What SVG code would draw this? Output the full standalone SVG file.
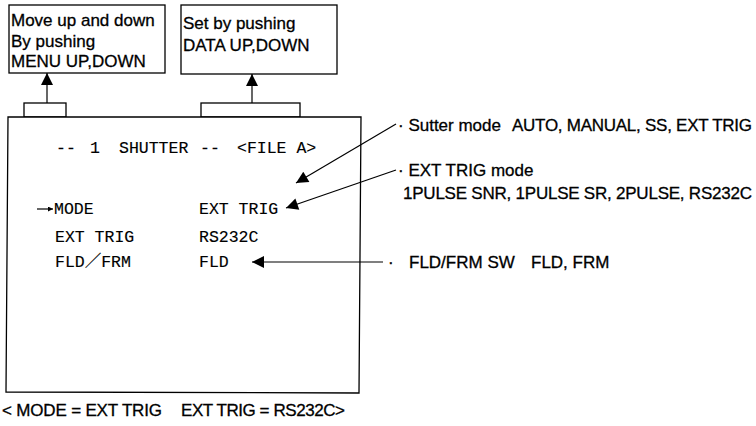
<svg xmlns="http://www.w3.org/2000/svg" width="756" height="426" viewBox="0 0 756 426">
<defs>
<style>
.box{fill:#fff;stroke:#000;stroke-width:1.3}
.ln{fill:none;stroke:#000;stroke-width:1.2}
.sans{font-family:"Liberation Sans",Arial,sans-serif;font-size:17px;fill:#000;stroke:#000;stroke-width:0.3}
.mono{font-family:"Liberation Mono","Courier New","Noto Sans CJK JP",monospace;font-size:16.5px;fill:#000;stroke:#000;stroke-width:0.15}
</style>
<marker id="ah" viewBox="0 0 10 10" refX="10" refY="5" markerWidth="14" markerHeight="12" markerUnits="userSpaceOnUse" orient="auto">
<path d="M0,0 L10,5 L0,10 z" fill="#000"/>
</marker>
<marker id="ahs" viewBox="0 0 10 10" refX="10" refY="5" markerWidth="6" markerHeight="5" markerUnits="userSpaceOnUse" orient="auto">
<path d="M0,0 L10,5 L0,10 z" fill="#000"/>
</marker>
</defs>
<rect width="756" height="426" fill="#fff"/>
<g id="menu-note">
<rect class="box" x="9" y="5" width="156" height="68"/>
<text class="sans" x="11" y="26">Move up and down</text>
<text class="sans" x="11" y="47">By pushing</text>
<text class="sans" x="11" y="67">MENU UP,DOWN</text>
</g>
<g id="data-note">
<rect class="box" x="181" y="5" width="156" height="69"/>
<text class="sans" x="183" y="29">Set by pushing</text>
<text class="sans" x="183" y="51">DATA UP,DOWN</text>
</g>
<g id="screen">
<rect class="box" x="24" y="103" width="42" height="14"/>
<rect class="box" x="201" y="103" width="99" height="14"/>
<path class="box" d="M8,117 L361,117 L359,393 L6,392 Z"/>
<text class="mono"><tspan x="56" y="153">--</tspan><tspan x="90" y="153">1</tspan><tspan x="119" y="153">SHUTTER</tspan><tspan x="200" y="153">--</tspan><tspan x="237" y="153">&lt;FILE A&gt;</tspan></text>
<line class="ln" x1="37" y1="209" x2="53" y2="209" stroke-width="1" marker-end="url(#ahs)"/>
<text class="mono" x="54" y="214">MODE</text>
<text class="mono" x="199" y="214">EXT TRIG</text>
<text class="mono" x="55" y="242">EXT TRIG</text>
<text class="mono" x="199" y="242">RS232C</text>
<text class="mono" x="55" y="267">FLD／FRM</text>
<text class="mono" x="199" y="267">FLD</text>
</g>
<g id="shutter-note">
<text class="sans" x="398" y="131">· Sutter mode</text>
<text class="sans" x="512" y="131" textLength="240">AUTO, MANUAL, SS, EXT TRIG</text>
</g>
<g id="exttrig-note">
<text class="sans" x="398" y="176">· EXT TRIG mode</text>
<text class="sans" x="403" y="199" textLength="349">1PULSE SNR, 1PULSE SR, 2PULSE, RS232C</text>
</g>
<g id="fldfrm-note">
<text class="sans" x="388" y="268">·</text>
<text class="sans" x="409" y="268">FLD/FRM SW</text>
<text class="sans" x="531" y="268">FLD, FRM</text>
</g>
<g id="caption">
<text class="sans" x="2" y="416" textLength="160">&lt; MODE = EXT TRIG</text>
<text class="sans" x="181" y="416" textLength="164">EXT TRIG = RS232C&gt;</text>
</g>
<g id="connectors">
<line class="ln" x1="396" y1="124" x2="296" y2="183" marker-end="url(#ah)"/>
<line class="ln" x1="396" y1="170" x2="286" y2="208" marker-end="url(#ah)"/>
<line class="ln" x1="383" y1="262" x2="252" y2="262" marker-end="url(#ah)"/>
<line class="ln" x1="47" y1="103" x2="47" y2="73" marker-end="url(#ah)"/>
<line class="ln" x1="252" y1="103" x2="252" y2="74" marker-end="url(#ah)"/>
</g>
</svg>
